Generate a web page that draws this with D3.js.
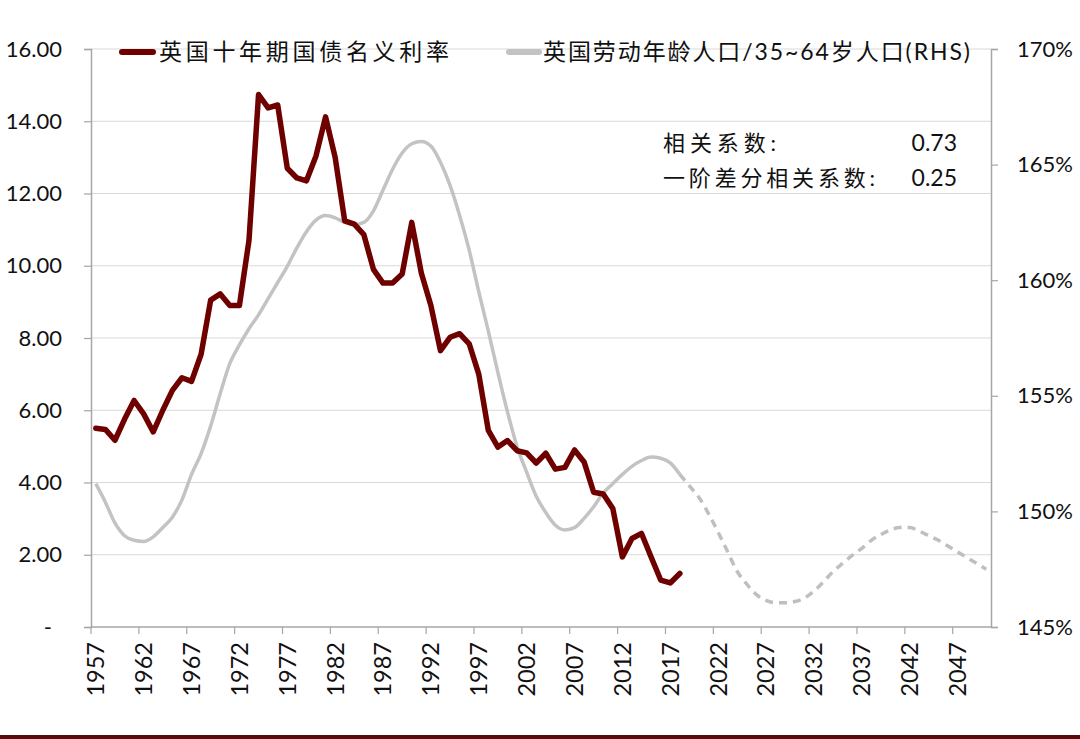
<!DOCTYPE html>
<html><head><meta charset="utf-8">
<script src="https://cdn.jsdelivr.net/npm/d3@7/dist/d3.min.js"></script>
<style>
body{margin:0;background:#fff;}
svg{display:block;}
text{font-family:Lato,"Noto Sans CJK SC",sans-serif;fill:#111;}
</style></head>
<body>
<svg id="c" width="1080" height="739"></svg>
<script>
// ---------- data ----------
const years = d3.range(1957, 2051);
const yieldYears = d3.range(1957, 2019);
const yieldValues = [5.50,5.47,5.17,5.75,6.27,5.90,5.40,6.00,6.55,6.90,6.80,7.55,9.05,9.22,8.90,8.90,10.70,14.74,14.37,14.45,12.70,12.43,12.35,13.04,14.12,13.00,11.24,11.15,10.86,9.90,9.52,9.52,9.77,11.20,9.80,8.90,7.65,8.02,8.12,7.84,7.00,5.44,4.98,5.16,4.88,4.82,4.54,4.81,4.37,4.42,4.90,4.57,3.73,3.68,3.28,1.94,2.45,2.59,1.94,1.30,1.22,1.48];
const ratioYears = d3.range(1957, 2019);
const ratioValues = [151.2,150.4,149.5,148.95,148.75,148.7,148.9,149.3,149.75,150.5,151.6,152.5,153.7,155.1,156.4,157.2,157.9,158.5,159.2,159.9,160.6,161.4,162.1,162.6,162.8,162.7,162.5,162.4,162.5,163.0,163.9,164.8,165.5,165.9,166.0,165.8,165.1,164.1,162.8,161.3,159.5,157.8,156.0,154.3,152.8,151.7,150.65,149.95,149.4,149.2,149.3,149.7,150.2,150.8,151.2,151.6,151.95,152.2,152.35,152.3,152.1,151.6];
const projYears = d3.range(2018, 2051);
const projValues = [151.6,151.1,150.6,149.9,149.1,148.25,147.4,146.85,146.4,146.15,146.05,146.05,146.1,146.25,146.55,146.95,147.4,147.75,148.1,148.4,148.75,149.0,149.2,149.3,149.3,149.15,148.95,148.75,148.5,148.25,148.0,147.75,147.5];
const leftTicks = [0,2,4,6,8,10,12,14,16];
const rightTicks = [145,150,155,160,165,170];
const labelYears = d3.range(1957, 2051, 5);
const legendLabels = ["英国十年期国债名义利率", "英国劳动年龄人口/35~64岁人口(RHS)"];
const noteLabels = ["相关系数:", "一阶差分相关系数:"];
const noteValues = ["0.73", "0.25"];

// ---------- layout ----------
const L = 91, R = 991, T = 49, B = 627;
const svg = d3.select("#c");
const x = d3.scaleBand().domain(years).range([L, R]).padding(0);
const bw = x.bandwidth();
const cx = d => x(d) + bw / 2;
const yL = d3.scaleLinear().domain([0, 16]).range([B, T]);
const yR = d3.scaleLinear().domain([145, 170]).range([B, T]);

const axisCol = "#a6a6a6", gridCol = "#d9d9d9";

// grid
svg.append("g").selectAll("line").data(leftTicks.filter(d => d > 0)).join("line")
  .attr("x1", L).attr("x2", R).attr("y1", d => yL(d)).attr("y2", d => yL(d))
  .attr("stroke", gridCol).attr("stroke-width", 1.2);

// left axis
const gl = svg.append("g").attr("transform", `translate(${L},0)`)
  .call(d3.axisLeft(yL).tickValues(leftTicks).tickSize(7).tickPadding(22)
    .tickFormat(d => d === 0 ? "-" : d.toFixed(2)));
gl.select(".domain").attr("stroke", axisCol).attr("stroke-width", 1.5);
gl.selectAll(".tick line").attr("stroke", axisCol).attr("stroke-width", 1.2);
gl.selectAll("text").style("font-size", "22px").attr("fill", "#111");
gl.selectAll(".tick").filter(d => d === 0).select("text").attr("dx", -10);

// right axis
const gr = svg.append("g").attr("transform", `translate(${R},0)`)
  .call(d3.axisRight(yR).tickValues(rightTicks).tickSize(7).tickPadding(19)
    .tickFormat(d => d + "%"));
gr.select(".domain").attr("stroke", axisCol).attr("stroke-width", 1.5);
gr.selectAll(".tick line").attr("stroke", axisCol).attr("stroke-width", 1.2);
gr.selectAll("text").style("font-size", "22px").attr("fill", "#111");

// bottom axis
svg.append("line").attr("x1", L).attr("x2", R).attr("y1", B).attr("y2", B)
  .attr("stroke", axisCol).attr("stroke-width", 1.5);
svg.append("g").selectAll("line").data(labelYears).join("line")
  .attr("x1", d => x(d)).attr("x2", d => x(d)).attr("y1", B).attr("y2", B + 7)
  .attr("stroke", axisCol).attr("stroke-width", 1.2);
const gb = svg.append("g").attr("transform", `translate(0,${B})`)
  .call(d3.axisBottom(x).tickValues(labelYears).tickSize(0).tickFormat(d => String(d)));
gb.select(".domain").remove();
gb.selectAll("text").style("font-size", "23.5px").attr("fill", "#111")
  .attr("transform", "rotate(-90)").attr("text-anchor", "end")
  .attr("x", -15).attr("y", 0).attr("dy", "0.36em");

// lines
const lineR = d3.line().x(d => cx(d[0])).y(d => yR(d[1])).curve(d3.curveMonotoneX);
svg.append("path").datum(projYears.map((y, i) => [y, projValues[i]]))
  .attr("d", lineR).attr("fill", "none").attr("stroke", "#bfbfbf")
  .attr("stroke-width", 3.5).attr("stroke-dasharray", "8,6");
svg.append("path").datum(ratioYears.map((y, i) => [y, ratioValues[i]]))
  .attr("d", lineR).attr("fill", "none").attr("stroke", "#c3c3c3")
  .attr("stroke-width", 3.5);
const lineL = d3.line().x(d => cx(d[0])).y(d => yL(d[1]));
svg.append("path").datum(yieldYears.map((y, i) => [y, yieldValues[i]]))
  .attr("d", lineL).attr("fill", "none").attr("stroke", "#6e0000")
  .attr("stroke-width", 5.5).attr("stroke-linejoin", "round").attr("stroke-linecap", "round");

// legend
const lg = svg.append("g");
lg.append("line").attr("x1", 122).attr("x2", 153).attr("y1", 52).attr("y2", 52)
  .attr("stroke", "#6e0000").attr("stroke-width", 6).attr("stroke-linecap", "round");
lg.append("text").attr("x", 159).attr("y", 52).attr("dy", "0.36em")
  .style("font-size", "23px").attr("textLength", 290).attr("lengthAdjust", "spacing")
  .text(legendLabels[0]);
lg.append("line").attr("x1", 509).attr("x2", 539).attr("y1", 52).attr("y2", 52)
  .attr("stroke", "#c3c3c3").attr("stroke-width", 6).attr("stroke-linecap", "round");
lg.append("text").attr("x", 543).attr("y", 52).attr("dy", "0.36em")
  .style("font-size", "23px").attr("textLength", 427).attr("lengthAdjust", "spacing")
  .text(legendLabels[1]);

// note
const ng = svg.append("g");
const noteY = [143, 178];
const noteW = [113, 212];
noteLabels.forEach((t, i) => {
  ng.append("text").attr("x", 663).attr("y", noteY[i]).attr("dy", "0.36em")
    .style("font-size", "22px").attr("textLength", noteW[i]).attr("lengthAdjust", "spacing").text(t);
  ng.append("text").attr("x", 957).attr("y", noteY[i]).attr("dy", "0.36em")
    .attr("text-anchor", "end").style("font-size", "23px").text(noteValues[i]);
});

// bottom border
svg.append("rect").attr("x", 0).attr("y", 735).attr("width", 1080).attr("height", 4).attr("fill", "#5a0c0c");
</script>
</body></html>
